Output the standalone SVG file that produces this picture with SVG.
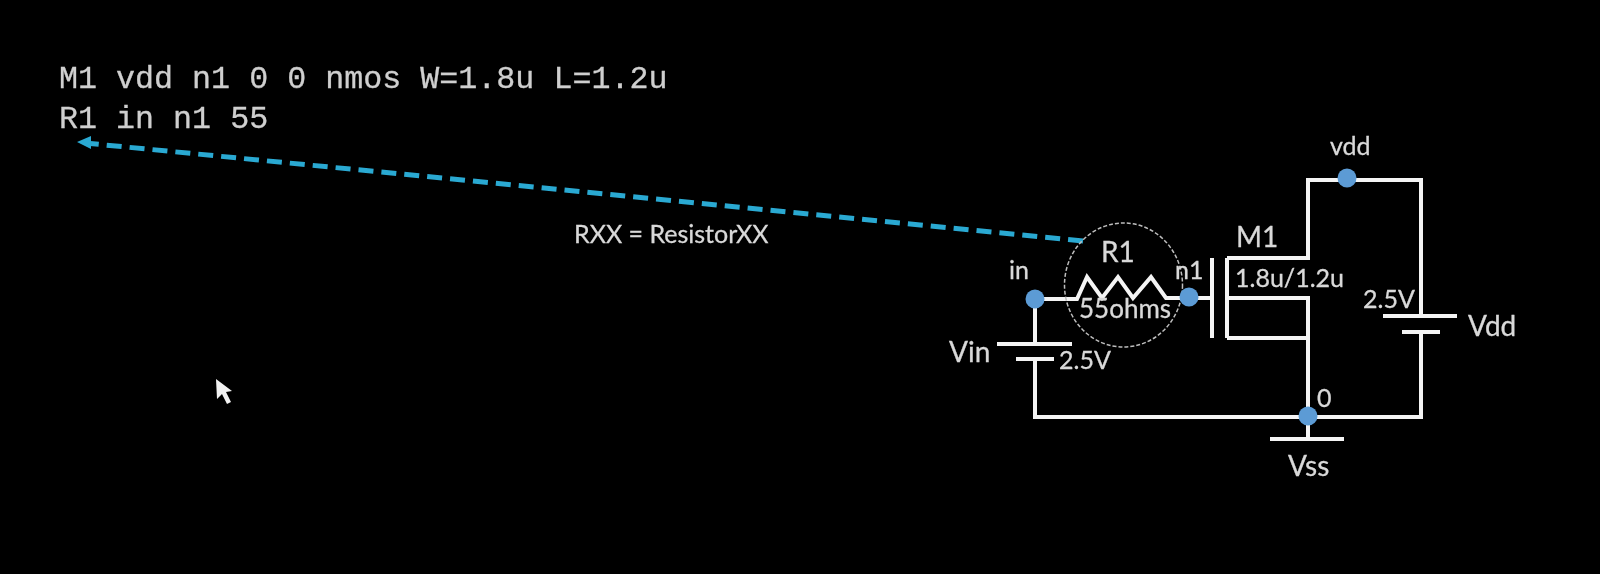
<svg xmlns="http://www.w3.org/2000/svg" width="1600" height="574" viewBox="0 0 1600 574">
<defs>
<style>
.w{fill:none;stroke:#f4f4f4;stroke-width:4;stroke-linejoin:miter}
.d{fill:#5b9bd5}
.t{font-family:"Lato","Liberation Sans",sans-serif;fill:#d9d9d9;font-size:25px;stroke:#d9d9d9;stroke-width:.3px}
.l{font-size:28px}
.m{font-family:"Liberation Mono",monospace;fill:#cfcfcf;font-size:31.7px;stroke:#cfcfcf;stroke-width:.3px}
</style>
<filter id="soft" x="-5%" y="-5%" width="110%" height="110%"><feGaussianBlur stdDeviation="0.6"/></filter>
</defs>
<rect width="1600" height="574" fill="#000"/>
<g filter="url(#soft)">
<g id="spice">
<text class="m" x="59" y="88">M1 vdd n1 0 0 nmos W=1.8u L=1.2u</text>
<text class="m" x="59" y="128">R1 in n1 55</text>
</g>
<g id="connectors">
<path d="M1083 241L90 143.500" fill="none" stroke="#2aa9d2" stroke-width="5" stroke-dasharray="15 8"/>
<path d="M77 142L91 136V149Z" fill="#2aa9d2"/>
<path class="w" d="M1035 299H1077L1087 277L1102 298L1118 277L1133 298L1151 277L1166 298H1212"/>
<path class="w" d="M1035 299V344M1035 359V417H1421V332M1421 316V180H1308V258H1227M1227 258V338M1227 298H1308V439M1227 338H1308"/>
</g>
<g id="r1-circle"><ellipse cx="1123.500" cy="285" rx="59" ry="62" fill="none" stroke="#bdbdbd" stroke-width="1.500" stroke-dasharray="4 2"/><text class="t l" x="1101" y="262">R1</text><text class="t" x="1079" y="318" style="font-size:26px">55ohms</text></g>
<g id="m1"><path class="w" d="M1212 258V338"/><text class="t l" x="1236" y="247">M1</text><text class="t" x="1235" y="287">1.8u/1.2u</text></g>
<g id="vin"><path class="w" d="M997 344H1072M1016 359H1054"/><text class="t l" x="949" y="362">Vin</text><text class="t" x="1059" y="369">2.5V</text></g>
<g id="vdd-source"><path class="w" d="M1383 316H1457M1402 332H1440"/><text class="t" x="1363" y="308">2.5V</text><text class="t l" x="1468" y="336">Vdd</text></g>
<g id="vss"><path class="w" d="M1270 439H1344"/><text class="t l" x="1288" y="476">Vss</text></g>
<g id="node-in"><circle class="d" cx="1035" cy="299" r="9.500"/><text class="t" x="1009" y="279">in</text></g>
<g id="node-n1"><circle class="d" cx="1189" cy="297" r="9.500"/><text class="t" x="1175" y="279">n1</text></g>
<g id="node-vdd"><circle class="d" cx="1347" cy="178" r="9.500"/><text class="t" x="1330" y="155">vdd</text></g>
<g id="node-0"><circle class="d" cx="1308" cy="416" r="9.500"/><text class="t" x="1317" y="407">0</text></g>
<text class="t" x="574" y="243">RXX = ResistorXX</text>
<path d="M216 379L217 399L222 394L227 404L231 402L226 392L232 391Z" fill="#f2f2f2"/>
</g>
</svg>
